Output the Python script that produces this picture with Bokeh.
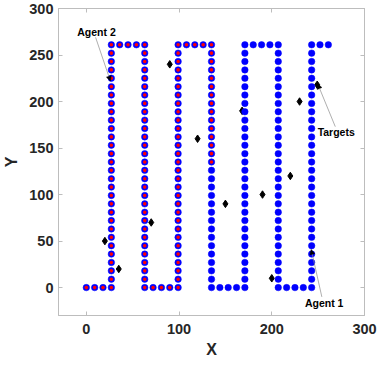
from bokeh.plotting import figure
from bokeh.models import LinearAxis, FixedTicker, Arrow, NormalHead, Range1d
from bokeh.core.properties import value
from bokeh.embed import file_html
from bokeh.resources import INLINE

# ---- data ----
grid_y = [0, 9, 18, 27, 36, 45, 54, 63, 72, 81, 90, 99, 108, 117, 126, 135,
          144, 153, 162, 171, 180, 189, 198, 207, 216, 225, 234, 243, 252, 261]
column_x = [27, 63, 99, 135, 171, 207, 243]
# horizontal connector points between columns (x values), in path order
start_row_x = [0, 9, 18]
connector_x = [[36, 45, 54], [72, 81, 90], [108, 117, 126],
               [144, 153, 162], [180, 189, 198], [216, 225, 234]]
end_row_x = [252, 261]
agent2_end = (135, 135)

targets_x = [20, 35, 70, 90, 120, 150, 168, 190, 200, 220, 230, 249]
targets_y = [50, 20, 70, 240, 160, 90, 190, 100, 10, 120, 200, 218]

x_ticks = [0, 100, 200, 300]
y_ticks = [0, 50, 100, 150, 200, 250, 300]

# ---- assemble the lawnmower path in order ----
path_x, path_y = [], []
for xv in start_row_x:
    path_x.append(xv); path_y.append(grid_y[0])
for i, cx in enumerate(column_x):
    ys = grid_y if i % 2 == 0 else grid_y[::-1]
    for yv in ys:
        path_x.append(cx); path_y.append(yv)
    if i < len(connector_x):
        row_y = grid_y[-1] if i % 2 == 0 else grid_y[0]
        for xv in connector_x[i]:
            path_x.append(xv); path_y.append(row_y)
for xv in end_row_x:
    path_x.append(xv); path_y.append(grid_y[-1])

k = [i for i in range(len(path_x)) if (path_x[i], path_y[i]) == agent2_end][0]
a2_x, a2_y = path_x[:k + 1], path_y[:k + 1]

FONT = "Liberation Sans"
TXT = "#262626"
AX = "#bdbdbd"

p = figure(width=377, height=365, output_backend="svg", toolbar_location=None,
           x_range=Range1d(-30, 300), y_range=Range1d(-30, 300),
           min_border_left=58, min_border_right=13, min_border_top=8, min_border_bottom=50,
           x_axis_label="X", y_axis_label="Y")
p.grid.visible = False
p.outline_line_color = AX
p.background_fill_color = "white"
p.border_fill_color = "white"

for ax, tk in ((p.xaxis[0], x_ticks), (p.yaxis[0], y_ticks)):
    ax.ticker = FixedTicker(ticks=tk)
    ax.axis_line_color = AX
    ax.major_tick_line_color = AX
    ax.major_tick_in = 4
    ax.major_tick_out = 0
    ax.minor_tick_line_color = None
    ax.major_label_text_font = FONT
    ax.major_label_text_font_style = "bold"
    ax.major_label_text_font_size = "14.5px"
    ax.major_label_text_color = TXT
    ax.axis_label_text_font = FONT
    ax.axis_label_text_font_style = "bold"
    ax.axis_label_text_font_size = "16px"
    ax.axis_label_text_color = TXT
p.xaxis[0].major_label_standoff = 8
p.xaxis[0].axis_label_standoff = 4
p.yaxis[0].major_label_standoff = 5
p.yaxis[0].axis_label_standoff = 6

# inward tick marks on the top and right edges (no labels)
for loc, tk in (("above", x_ticks), ("right", y_ticks)):
    a = LinearAxis(ticker=FixedTicker(ticks=tk), axis_line_color=AX,
                   major_tick_line_color=AX, major_tick_in=4, major_tick_out=0,
                   minor_tick_line_color=None, major_label_text_color=None,
                   major_label_text_font_size="1px", major_label_standoff=0)
    p.add_layout(a, loc)

# targets (drawn beneath path)
p.scatter(targets_x, targets_y, marker="diamond", size=7.5, fill_color="black",
          line_color="black")

# full coverage path (blue) and agent 2 portion (red centres)
p.scatter(path_x, path_y, marker="circle", size=6.5, fill_color="#0000ff",
          line_color="#0000ff", line_width=0.5)
p.scatter(a2_x, a2_y, marker="circle", size=3.6, fill_color="#ff0000",
          line_color=None)

# annotations
ann_text = ["Agent 2", "Agent 1", "Targets"]
ann_tx = [11, 256.5, 269.5]
ann_ty = [274.5, -16.5, 167.5]
p.text(ann_tx, ann_ty, text=ann_text, text_font=value(FONT), text_font_style="bold",
       text_font_size="10.5px", text_color="black", text_align="center",
       text_baseline="middle")

arrows = [((10, 269), (26, 222)), ((254, -10), (242.5, 41)), ((268.5, 173), (249.5, 219))]
for (xs, ys), (xe, ye) in arrows:
    p.add_layout(Arrow(x_start=xs, y_start=ys, x_end=xe, y_end=ye,
                       line_color="#8c8c8c", line_width=0.7,
                       end=NormalHead(size=5, fill_color="black", line_color="black",
                                      line_width=0.5)))

open("out.html", "w").write(file_html(p, INLINE))
